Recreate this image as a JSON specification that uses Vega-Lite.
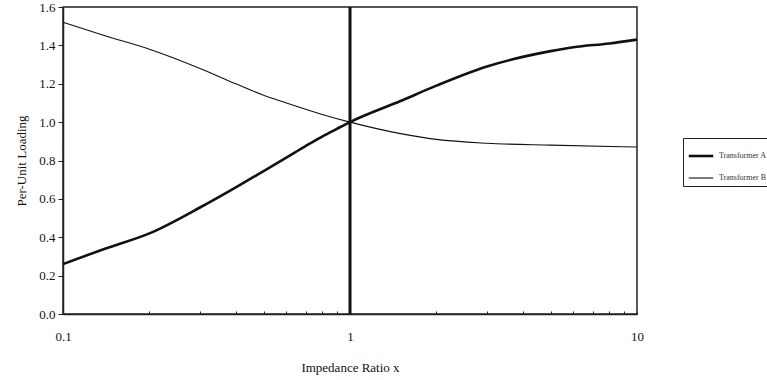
{
  "$schema": "https://vega.github.io/schema/vega-lite/v6.json",
  "width": 574,
  "height": 307,
  "autosize": "none",
  "padding": {"left": 63, "top": 7, "right": 130, "bottom": 66},
  "background": "white",
  "config": {
    "font": "Liberation Serif",
    "view": {"stroke": "#222", "strokeWidth": 1.5},
    "axis": {"grid": false, "domainColor": "#222", "tickColor": "#222", "labelColor": "#111", "titleColor": "#111", "labelFont": "Liberation Serif", "titleFont": "Liberation Serif", "titleFontWeight": "normal"}
  },
  "datasets": {
    "curves": [
      {"x": 0.1, "y": 0.26, "s": "Transformer A"},
      {"x": 0.14, "y": 0.34, "s": "Transformer A"},
      {"x": 0.2, "y": 0.42, "s": "Transformer A"},
      {"x": 0.3, "y": 0.555, "s": "Transformer A"},
      {"x": 0.4, "y": 0.66, "s": "Transformer A"},
      {"x": 0.5, "y": 0.745, "s": "Transformer A"},
      {"x": 0.6, "y": 0.815, "s": "Transformer A"},
      {"x": 0.7, "y": 0.875, "s": "Transformer A"},
      {"x": 0.8, "y": 0.925, "s": "Transformer A"},
      {"x": 0.9, "y": 0.965, "s": "Transformer A"},
      {"x": 1, "y": 1.0, "s": "Transformer A"},
      {"x": 1.5, "y": 1.11, "s": "Transformer A"},
      {"x": 2, "y": 1.19, "s": "Transformer A"},
      {"x": 3, "y": 1.29, "s": "Transformer A"},
      {"x": 4, "y": 1.34, "s": "Transformer A"},
      {"x": 5, "y": 1.37, "s": "Transformer A"},
      {"x": 6, "y": 1.39, "s": "Transformer A"},
      {"x": 8, "y": 1.41, "s": "Transformer A"},
      {"x": 10, "y": 1.43, "s": "Transformer A"},
      {"x": 0.1, "y": 1.52, "s": "Transformer B"},
      {"x": 0.14, "y": 1.45, "s": "Transformer B"},
      {"x": 0.2, "y": 1.38, "s": "Transformer B"},
      {"x": 0.3, "y": 1.28, "s": "Transformer B"},
      {"x": 0.4, "y": 1.2, "s": "Transformer B"},
      {"x": 0.5, "y": 1.14, "s": "Transformer B"},
      {"x": 0.6, "y": 1.1, "s": "Transformer B"},
      {"x": 0.8, "y": 1.04, "s": "Transformer B"},
      {"x": 1, "y": 1.0, "s": "Transformer B"},
      {"x": 1.5, "y": 0.94, "s": "Transformer B"},
      {"x": 2, "y": 0.91, "s": "Transformer B"},
      {"x": 3, "y": 0.89, "s": "Transformer B"},
      {"x": 5, "y": 0.88, "s": "Transformer B"},
      {"x": 10, "y": 0.87, "s": "Transformer B"}
    ],
    "vline": [{"x": 1}]
  },
  "layer": [
    {
      "data": {"name": "vline"},
      "mark": {"type": "rule", "color": "#111", "strokeWidth": 3},
      "encoding": {
        "x": {"field": "x", "type": "quantitative", "scale": {"type": "log", "domain": [0.1, 10]}}
      }
    },
    {
      "data": {"name": "curves"},
      "mark": {"type": "line", "color": "#111", "interpolate": "monotone"},
      "encoding": {
        "x": {
          "field": "x", "type": "quantitative",
          "scale": {"type": "log", "domain": [0.1, 10], "nice": false},
          "axis": {
            "title": "Impedance Ratio x",
            "titleFontSize": 13, "titlePadding": 18,
            "values": [0.1, 0.2, 0.3, 0.4, 0.5, 0.6, 0.7, 0.8, 0.9, 1, 2, 3, 4, 5, 6, 7, 8, 9, 10],
            "labelExpr": "datum.value == 0.1 ? '0.1' : (datum.value == 1 ? '1' : (datum.value == 10 ? '10' : ''))",
            "labelFontSize": 13, "labelPadding": 19, "labelFlush": false,
            "tickSize": -3, "domainWidth": 1.5
          }
        },
        "y": {
          "field": "y", "type": "quantitative",
          "scale": {"domain": [0, 1.6], "nice": false},
          "axis": {
            "title": "Per-Unit Loading",
            "titleFontSize": 13, "titlePadding": 10,
            "values": [0, 0.2, 0.4, 0.6, 0.8, 1.0, 1.2, 1.4, 1.6],
            "format": ".1f", "labelFontSize": 13, "tickSize": 5, "labelPadding": 3, "labelFlush": false, "domainWidth": 1.5
          }
        },
        "strokeWidth": {
          "field": "s", "type": "nominal",
          "scale": {"domain": ["Transformer A", "Transformer B"], "range": [2.6, 1.1]},
          "legend": {
            "title": null, "orient": "none", "legendX": 620, "legendY": 131,
            "labelFontSize": 8, "symbolType": "stroke", "symbolSize": 600,
            "symbolStrokeColor": "#111", "strokeColor": "#222", "fillColor": "white",
            "padding": 4, "rowPadding": 3, "labelColor": "#333"
          }
        },
        "detail": {"field": "s"}
      }
    }
  ]
}
